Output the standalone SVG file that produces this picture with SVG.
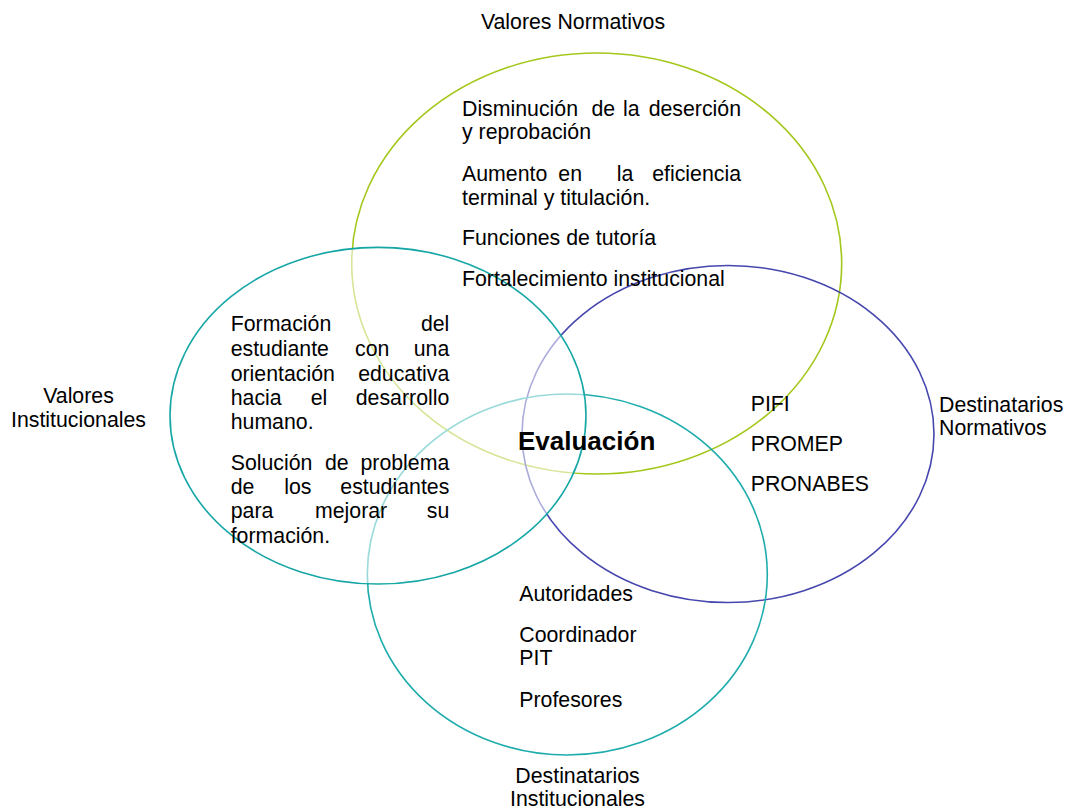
<svg xmlns="http://www.w3.org/2000/svg" width="1065" height="811" viewBox="0 0 1065 811">
<style>
  .t { font-family: "Liberation Sans", Arial, sans-serif; font-size: 21.3px; fill: #000; }
  .b { font-family: "Liberation Sans", Arial, sans-serif; font-size: 26px; font-weight: bold; fill: #000; }
  .c { fill: none; stroke-width: 1.6; }
  .e { text-anchor: end; }
  .m { text-anchor: middle; }
</style>
<rect width="1065" height="811" fill="#ffffff"/>
<g id="circles">
  <ellipse id="circle-normativos" class="c" cx="596.7" cy="263.5" rx="245" ry="210.5" stroke="#A3C71B"/>
  <ellipse id="circle-dest-normativos" class="c" cx="728" cy="434" rx="206" ry="168.5" stroke="#4646AE"/>
  <ellipse id="circle-dest-institucionales" class="c" cx="567.3" cy="574.5" rx="200" ry="180.5" stroke="#1FACAC"/>
  <ellipse id="circle-institucionales" cx="378" cy="415.7" rx="208" ry="168.3" fill="#ffffff" fill-opacity="0.55" stroke="#16A6A6" stroke-width="1.6"/>
</g>
<g id="node-valores-normativos">
  <text class="t m" x="573" y="29">Valores Normativos</text>
  <text class="t" y="116"><tspan x="462">Disminución</tspan><tspan x="591.5">de</tspan><tspan x="623">la</tspan></text>
  <text class="t e" x="741" y="116">deserción</text>
  <text class="t" x="462" y="139">y reprobación</text>
  <text class="t" y="181"><tspan x="462">Aumento</tspan><tspan x="558.3">en</tspan><tspan x="616.7">la</tspan></text>
  <text class="t e" x="741" y="181">eficiencia</text>
  <text class="t" x="462" y="205">terminal y titulación.</text>
  <text class="t" x="462" y="245">Funciones de tutoría</text>
  <text class="t" x="462" y="286">Fortalecimiento institucional</text>
</g>
<g id="node-valores-institucionales">
  <text class="t m" x="78.5" y="403">Valores</text>
  <text class="t m" x="78.5" y="427">Institucionales</text>
  <text class="t" x="230.7" y="331">Formación</text>
  <text class="t e" x="449.3" y="331">del</text>
  <text class="t" y="355.7"><tspan x="230.7">estudiante</tspan><tspan x="355">con</tspan></text>
  <text class="t e" x="449.3" y="355.7">una</text>
  <text class="t" x="230.7" y="380.7">orientación</text>
  <text class="t e" x="449.3" y="380.7">educativa</text>
  <text class="t" y="405"><tspan x="230.7">hacia</tspan><tspan x="310.7">el</tspan></text>
  <text class="t e" x="449.3" y="405">desarrollo</text>
  <text class="t" x="230.7" y="429.3">humano.</text>
  <text class="t" y="470"><tspan x="230.7">Solución</tspan><tspan x="325">de</tspan></text>
  <text class="t e" x="449.3" y="470">problema</text>
  <text class="t" y="494"><tspan x="230.7">de</tspan><tspan x="284.3">los</tspan></text>
  <text class="t e" x="449.3" y="494">estudiantes</text>
  <text class="t" y="518"><tspan x="230.7">para</tspan><tspan x="315">mejorar</tspan></text>
  <text class="t e" x="449.3" y="518">su</text>
  <text class="t" x="230.7" y="543">formación.</text>
</g>
<g id="node-destinatarios-normativos">
  <text class="t" x="939" y="412"><tspan x="939">Destinatarios</tspan><tspan x="939" dy="23">Normativos</tspan></text>
  <text class="t" x="750.7" y="411">PIFI</text>
  <text class="t" x="750.7" y="451">PROMEP</text>
  <text class="t" x="750.7" y="491">PRONABES</text>
</g>
<g id="node-destinatarios-institucionales">
  <text class="t m" x="577.5" y="783">Destinatarios</text>
  <text class="t m" x="577.5" y="806">Institucionales</text>
  <text class="t" x="519.3" y="601">Autoridades</text>
  <text class="t" x="519.3" y="642">Coordinador</text>
  <text class="t" x="519.3" y="665">PIT</text>
  <text class="t" x="519.3" y="707">Profesores</text>
</g>
<g id="node-evaluacion">
  <text class="b" x="518" y="450">Evaluación</text>
</g>
<g id="connectors"></g>
</svg>
